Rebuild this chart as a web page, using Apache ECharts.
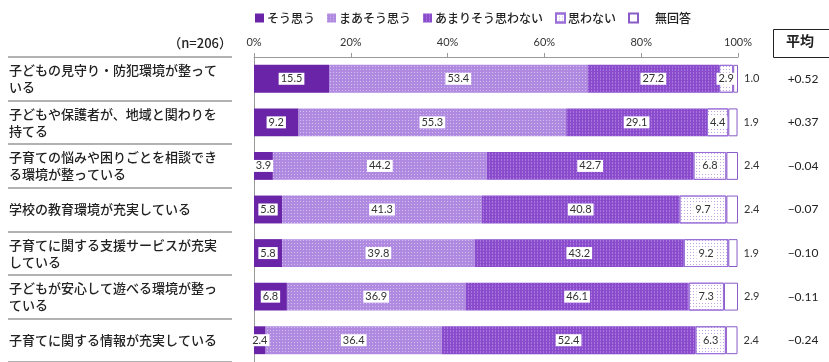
<!DOCTYPE html>
<html>
<head>
<meta charset="utf-8">
<script src="https://cdn.jsdelivr.net/npm/echarts@6/dist/echarts.min.js"></script>
<style>
  html, body { margin: 0; padding: 0; background: #fff; }
  #chart { width: 829px; height: 362px; }
</style>
</head>
<body>
<div id="chart"></div>
<script>
// Survey items (top to bottom)
const categories = [
  '子どもの見守り・防犯環境が整って\nいる',
  '子どもや保護者が、地域と関わりを\n持てる',
  '子育ての悩みや困りごとを相談でき\nる環境が整っている',
  '学校の教育環境が充実している',
  '子育てに関する支援サービスが充実\nしている',
  '子どもが安心して遊べる環境が整っ\nている',
  '子育てに関する情報が充実している'
];

// Answer shares (%)
const agree         = [15.5,  9.2,  3.9,  5.8,  5.8,  6.8,  2.4];
const somewhatAgree = [53.4, 55.3, 44.2, 41.3, 39.8, 36.9, 36.4];
const notMuch       = [27.2, 29.1, 42.7, 40.8, 43.2, 46.1, 52.4];
const disagree      = [ 2.9,  4.4,  6.8,  9.7,  9.2,  7.3,  6.3];
const noAnswer      = [ 1.0,  1.9,  2.4,  2.4,  1.9,  2.9,  2.4];

// Average score per item
const averages = [0.52, 0.37, -0.04, -0.07, -0.10, -0.11, -0.24];

const seriesNames = ['そう思う', 'まあそう思う', 'あまりそう思わない', '思わない', '無回答'];
const sampleNote = '（n=206）';
const averageTitle = '平均';

const JP = "'Noto Sans CJK JP', sans-serif";
const NUM = "Lato, 'Noto Sans', sans-serif";

function fmtAvg(v) {
  return (v >= 0 ? '+' : '\u2212') + Math.abs(v).toFixed(2);
}

const boxLabel = {
  show: true,
  position: 'inside',
  formatter: p => p.value.toFixed(1),
  fontFamily: NUM,
  fontSize: 11,
  color: '#333',
  backgroundColor: '#fff',
  padding: [1, 2, 0, 2]
};

const styles = [
  { color: '#6a24a8' },
  { color: '#b08ae0',
    decal: { symbol: 'rect', symbolSize: 1, dashArrayX: [1, 2], dashArrayY: [1, 2], color: 'rgba(255,255,255,0.45)' } },
  { color: '#8a4ccc',
    decal: { symbol: 'rect', symbolSize: 1, dashArrayX: [1, 2], dashArrayY: [2, 1], color: 'rgba(200,170,240,0.45)' } },
  { color: '#ffffff', borderColor: '#9a6fd8', borderWidth: 1,
    decal: { symbol: 'rect', symbolSize: 1, dashArrayX: [1, 2], dashArrayY: [1, 2], color: 'rgba(140,90,210,0.55)' } },
  { color: '#ffffff', borderColor: '#8a5cc8', borderWidth: 1 }
];

const values = [agree, somewhatAgree, notMuch, disagree, noAnswer];

const series = values.map((arr, i) => ({
  name: seriesNames[i],
  type: 'bar',
  stack: 'total',
  barCategoryGap: '36%',
  itemStyle: styles[i],
  label: i === 4
    ? { show: true, position: 'right', distance: 6, formatter: p => p.value.toFixed(1),
        fontFamily: NUM, fontSize: 11, color: '#333' }
    : boxLabel,
  emphasis: { disabled: true },
  data: arr
}));

const chart = echarts.init(document.getElementById('chart'), null, { renderer: 'canvas' });
chart.setOption({
  animation: false,
  textStyle: { fontFamily: JP },
  legend: {
    top: 7,
    left: 250,
    itemWidth: 9,
    itemHeight: 9,
    itemGap: 12,
    icon: 'rect',
    textStyle: { fontFamily: JP, fontSize: 12, fontWeight: 500, color: '#222', padding: [0, 0, 0, -2] },
    data: seriesNames.map((n, i) => i === 4
      ? { name: n, textStyle: { padding: [0, 0, 0, 12] } }
      : { name: n })
  },
  grid: { left: 254, right: 91, top: 57, height: 306, containLabel: false },
  xAxis: {
    type: 'value',
    position: 'top',
    min: 0,
    max: 100,
    interval: 20,
    axisLine: { show: true, lineStyle: { color: '#999', width: 1 } },
    axisTick: { show: true, length: 4, lineStyle: { color: '#999' } },
    splitLine: { show: false },
    axisLabel: { formatter: '{value}%', fontFamily: NUM, fontSize: 11, color: '#333', margin: 9 }
  },
  yAxis: [
    {
      type: 'category',
      inverse: true,
      data: categories,
      position: 'left',
      axisLine: { show: true, lineStyle: { color: '#999', width: 1 } },
      axisTick: { show: false },
      axisLabel: { align: 'left', margin: 245, fontFamily: JP, fontSize: 13, fontWeight: 500, color: '#222', lineHeight: 17 }
    },
    {
      type: 'category',
      inverse: true,
      data: categories,
      position: 'left',
      offset: 22,
      axisLine: { show: false },
      axisTick: { show: true, length: 224, lineStyle: { color: '#999', width: 1.5 } },
      axisLabel: { show: false }
    },
    {
      type: 'category',
      inverse: true,
      data: averages.map(fmtAvg),
      position: 'right',
      axisLine: { show: false },
      axisTick: { show: false },
      axisLabel: { align: 'center', margin: 65, fontFamily: NUM, fontSize: 12, color: '#222' }
    }
  ],
  graphic: [
    { type: 'text', right: 597, top: 37,
      style: { text: sampleNote, font: "500 13px 'Noto Sans CJK JP'", fill: '#222' } },
    { type: 'rect', left: 773, top: 29, shape: { width: 60, height: 28 },
      style: { fill: '#fff', stroke: '#222', lineWidth: 1 } },
    { type: 'text', left: 786, top: 34,
      style: { text: averageTitle, font: "bold 14px 'Noto Sans CJK JP'", fill: '#222' } }
  ],
  series: series
});
</script>
</body>
</html>
